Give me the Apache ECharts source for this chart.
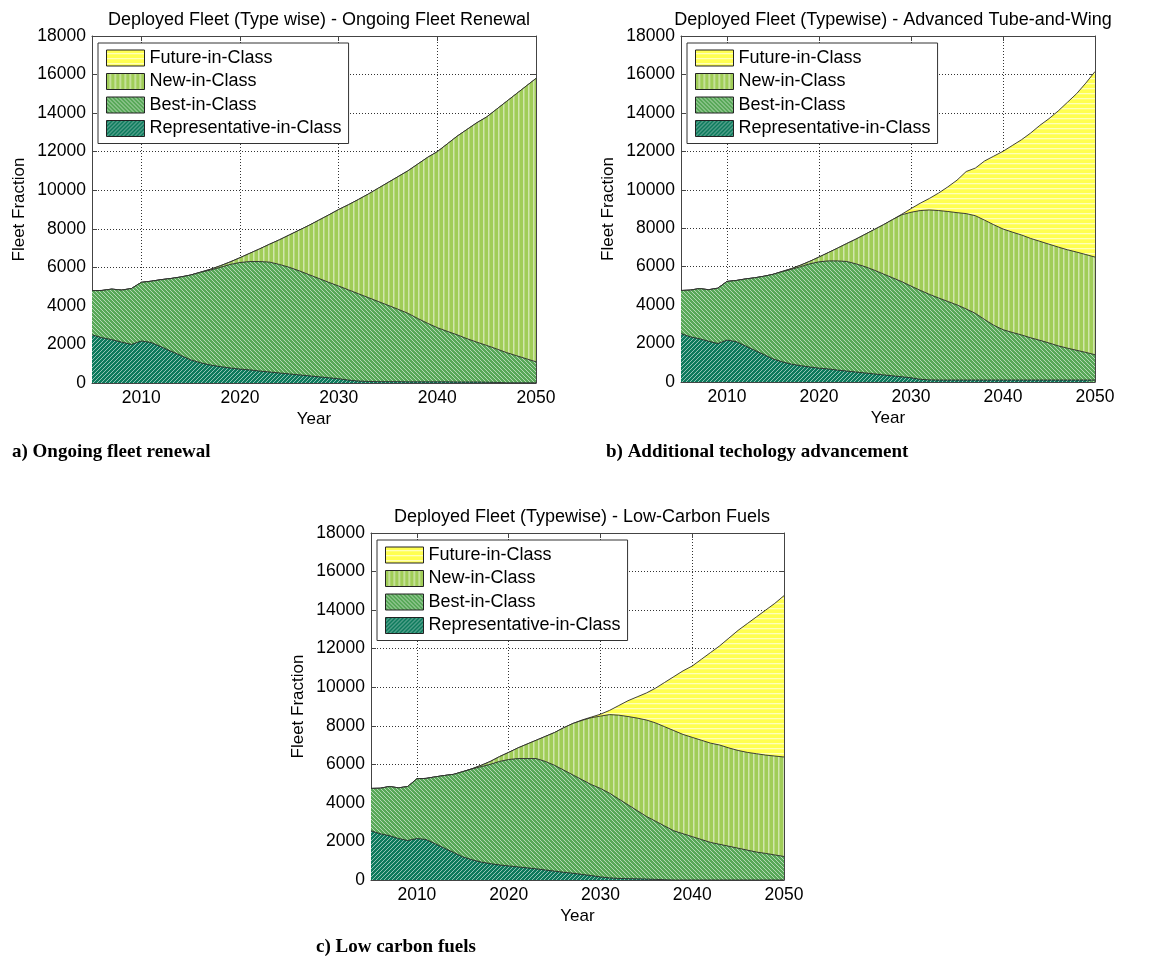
<!DOCTYPE html>
<html><head><meta charset="utf-8">
<script src="https://cdn.jsdelivr.net/npm/echarts@6/dist/echarts.min.js"></script>
<style>html,body{margin:0;padding:0;background:#fff}#c{width:1158px;height:959px}</style>
</head><body><div id="c"></div>
<script>
// ---------------- DATA ----------------
const years = [2005,2006,2007,2008,2009,2010,2011,2012,2013,2014,2015,2016,2017,2018,2019,2020,2021,2022,2023,2024,2025,2026,2027,2028,2029,2030,2031,2032,2033,2034,2035,2036,2037,2038,2039,2040,2041,2042,2043,2044,2045,2046,2047,2048,2049,2050];
const seriesNames = ['Future-in-Class','New-in-Class','Best-in-Class','Representative-in-Class'];
const xTickLabels = [2010,2020,2030,2040,2050];
const yTickLabels = [0,2000,4000,6000,8000,10000,12000,14000,16000,18000];
const chartTitles = ['Deployed Fleet (Type wise) - Ongoing Fleet Renewal','Deployed Fleet (Typewise) - Advanced Tube-and-Wing','Deployed Fleet (Typewise) - Low-Carbon Fuels'];
const captions = ['a) Ongoing fleet renewal','b) Additional techology advancement','c) Low carbon fuels'];

// Upper boundary of each layer (cumulative values)
// a) Ongoing fleet renewal
const aTotal = [4790,4800,4870,4820,4900,5220,5280,5360,5420,5500,5600,5750,5900,6080,6280,6500,6730,6960,7200,7430,7680,7930,8180,8450,8720,9000,9250,9520,9800,10100,10400,10700,11000,11350,11700,12000,12400,12800,13150,13500,13800,14200,14600,15000,15400,15800];
const aNew   = [4790,4800,4870,4820,4900,5220,5280,5360,5420,5500,5600,5750,5900,6080,6280,6500,6730,6960,7200,7430,7680,7930,8180,8450,8720,9000,9250,9520,9800,10100,10400,10700,11000,11350,11700,12000,12400,12800,13150,13500,13800,14200,14600,15000,15400,15800];
const aBest  = [4790,4800,4870,4820,4900,5220,5280,5360,5420,5500,5600,5740,5860,6000,6150,6250,6300,6300,6270,6150,6000,5820,5620,5420,5220,5030,4830,4630,4430,4230,4030,3830,3620,3350,3100,2870,2680,2500,2300,2120,1950,1770,1580,1420,1260,1100];
const aRep   = [2500,2350,2250,2120,2000,2180,2100,1880,1650,1430,1200,1050,930,850,780,720,680,620,570,520,470,420,370,320,270,220,150,100,80,70,70,70,60,60,60,60,60,50,50,50,40,30,10,10,10,10];

// b) Additional technology advancement
const bTotal = [4760,4780,4860,4800,4880,5230,5280,5360,5420,5500,5600,5750,5900,6080,6280,6500,6730,6960,7200,7430,7680,7930,8180,8450,8730,9020,9300,9550,9830,10150,10500,10950,11130,11500,11750,12000,12300,12600,12950,13350,13700,14100,14550,15000,15550,16150];
const bNew   = [4760,4780,4860,4800,4880,5230,5280,5360,5420,5500,5600,5750,5900,6080,6280,6500,6730,6960,7200,7430,7680,7930,8180,8450,8700,8830,8920,8950,8920,8870,8810,8760,8650,8420,8180,7960,7800,7650,7470,7320,7170,7020,6880,6760,6630,6500];
const bBest  = [4760,4780,4860,4800,4880,5230,5280,5360,5420,5500,5600,5740,5860,6000,6150,6250,6300,6300,6270,6150,6000,5820,5620,5420,5220,4990,4770,4560,4370,4190,4010,3800,3570,3250,2950,2720,2580,2450,2300,2170,2030,1880,1760,1650,1540,1420];
const bRep   = [2520,2350,2250,2120,2000,2180,2100,1880,1650,1430,1200,1050,930,850,780,720,680,620,570,520,470,420,370,320,270,220,140,110,100,100,100,100,100,100,100,100,100,100,100,100,100,100,100,100,100,100];

// c) Low carbon fuels
const cTotal = [4750,4760,4850,4780,4850,5250,5270,5350,5420,5480,5620,5770,5950,6150,6400,6620,6850,7050,7250,7450,7650,7900,8120,8300,8450,8600,8800,9050,9300,9500,9700,9950,10250,10550,10850,11100,11450,11800,12150,12550,12950,13300,13650,14000,14350,14750];
const cNew   = [4750,4760,4850,4780,4850,5250,5270,5350,5420,5480,5620,5770,5950,6150,6400,6620,6850,7050,7250,7450,7650,7900,8120,8280,8420,8500,8580,8550,8480,8400,8300,8150,7950,7750,7550,7400,7250,7100,7000,6850,6720,6620,6550,6480,6430,6380];
const cBest  = [4750,4760,4850,4780,4850,5250,5270,5350,5420,5480,5620,5760,5880,6000,6150,6250,6300,6300,6300,6150,5950,5700,5450,5200,4950,4750,4500,4200,3900,3600,3300,3050,2800,2550,2400,2250,2100,1950,1850,1750,1650,1550,1450,1380,1300,1220];
const cRep   = [2550,2400,2300,2150,2050,2150,2100,1880,1650,1430,1200,1050,930,850,780,730,680,630,580,520,460,400,350,290,230,160,110,80,70,60,50,30,15,0,0,0,0,0,0,0,0,0,0,0,0,0];

const panels = [
  {total:aTotal, nw:aNew, best:aBest, rep:aRep},
  {total:bTotal, nw:bNew, best:bBest, rep:bRep},
  {total:cTotal, nw:cNew, best:cBest, rep:cRep}
];

// ---------------- STYLE ----------------
const FONT = '"Liberation Sans", Arial, Helvetica, sans-serif';
function hatch(bg, kind, stripe) {
  const s = (kind === 'v' || kind === 'h') ? 5 : 4;
  const c = document.createElement('canvas'); c.width = s; c.height = s;
  const g = c.getContext('2d');
  g.fillStyle = bg; g.fillRect(0, 0, s, s);
  g.fillStyle = stripe; g.strokeStyle = stripe;
  if (kind === 'v') { g.fillRect(3, 0, 1.5, s); }
  else if (kind === 'h') { g.fillRect(0, 3, s, 1.3); }
  else {
    g.lineWidth = 1.0; g.beginPath();
    for (let k = -1; k <= 1; k++) {
      if (kind === '/') { g.moveTo(k * s, s); g.lineTo(k * s + s, 0); }
      else { g.moveTo(k * s, 0); g.lineTo(k * s + s, s); }
    }
    g.stroke();
  }
  return { image: c, repeat: 'repeat' };
}
const fills = {
  'Future-in-Class': hatch('#ffff50', 'h', 'rgba(255,255,255,0.6)'),
  'New-in-Class': hatch('#a0cd58', 'v', 'rgba(255,255,255,0.5)'),
  'Best-in-Class': hatch('#58a858', '\\', 'rgba(255,255,255,0.55)'),
  'Representative-in-Class': hatch('#0d7a5c', '/', 'rgba(255,255,255,0.55)')
};

const grids = [
  {left: 92, top: 36, width: 444, height: 347},
  {left: 681, top: 36, width: 414, height: 346},
  {left: 371, top: 533, width: 413, height: 347}
];
const titlePos = [{x: 314, y: 6}, {x: 888, y: 6}, {x: 577, y: 503}];
const legendPos = [{x: 98, y: 43}, {x: 687, y: 43}, {x: 377, y: 540}];
const captionPos = [{x: 12, y: 443}, {x: 606, y: 443}, {x: 316, y: 938}];

const axisColor = '#444';
const fmt = v => String(v);
const xAxes = [], yAxes = [], series = [], legends = [], titles = [], graphics = [];
grids.forEach((g, i) => {
  xAxes.push({
    type: 'value', gridIndex: i, min: 2005, max: 2050, position: 'bottom',
    axisLine: {show: true, onZero: false, lineStyle: {color: axisColor, width: 1}},
    axisTick: {show: true, inside: true, length: 5, customValues: xTickLabels, lineStyle: {color: axisColor}},
    axisLabel: {customValues: xTickLabels, formatter: fmt, fontSize: 17.5, color: '#000', fontFamily: FONT, margin: 6},
    splitLine: {show: true, lineStyle: {type: [1, 2], color: '#333', width: 1}},
    name: 'Year', nameLocation: 'middle', nameGap: 28,
    nameTextStyle: {fontSize: 17, color: '#000', fontFamily: FONT}
  });
  yAxes.push({
    type: 'value', gridIndex: i, min: 0, max: 18000, interval: 2000, position: 'left',
    axisLine: {show: true, onZero: false, lineStyle: {color: axisColor, width: 1}},
    axisTick: {show: true, inside: true, length: 5, lineStyle: {color: axisColor}},
    axisLabel: {formatter: fmt, fontSize: 17.5, color: '#000', fontFamily: FONT, margin: 6},
    splitLine: {show: true, lineStyle: {type: [1, 2], color: '#333', width: 1}},
    name: 'Fleet Fraction', nameLocation: 'middle', nameGap: 64,
    nameTextStyle: {fontSize: 17, color: '#000', fontFamily: FONT}
  });
});
grids.forEach((g, i) => {
  xAxes.push({
    type: 'value', gridIndex: i, min: 2005, max: 2050, position: 'top',
    axisLine: {show: true, onZero: false, lineStyle: {color: axisColor, width: 1}},
    axisTick: {show: true, inside: true, length: 5, customValues: xTickLabels, lineStyle: {color: axisColor}},
    axisLabel: {show: false}, splitLine: {show: false}
  });
  yAxes.push({
    type: 'value', gridIndex: i, min: 0, max: 18000, interval: 2000, position: 'right',
    axisLine: {show: true, onZero: false, lineStyle: {color: axisColor, width: 1}},
    axisTick: {show: true, inside: true, length: 5, lineStyle: {color: axisColor}},
    axisLabel: {show: false}, splitLine: {show: false}
  });
});

panels.forEach((p, i) => {
  const layers = [p.total, p.nw, p.best, p.rep];
  layers.forEach((arr, k) => {
    const name = seriesNames[k];
    series.push({
      type: 'line', name: name, xAxisIndex: i, yAxisIndex: i,
      data: years.map((yr, j) => [yr, arr[j]]),
      showSymbol: false, symbol: 'none', smooth: false, silent: true,
      lineStyle: {color: '#2b2b2b', width: 0.9},
      itemStyle: {color: '#2b2b2b'},
      areaStyle: {color: fills[name], opacity: 1, origin: 'start'},
      z: 2 + k
    });
  });
  legends.push({
    left: legendPos[i].x, top: legendPos[i].y, orient: 'vertical',
    itemWidth: 38, itemHeight: 16, itemGap: 5.5, icon: 'rect',
    padding: [6, 7, 6, 8], borderColor: '#333', borderWidth: 1, backgroundColor: '#fff',
    selectedMode: false, z: 10,
    textStyle: {fontSize: 18, color: '#000', fontFamily: FONT},
    data: seriesNames.map(n => ({name: n, icon: 'rect', itemStyle: {color: fills[n], borderColor: '#222', borderWidth: 1}}))
  });
  titles.push({
    text: chartTitles[i], left: titlePos[i].x, top: titlePos[i].y, textAlign: 'center',
    textStyle: {fontSize: 18, fontWeight: 'normal', color: '#000', fontFamily: FONT}
  });
  graphics.push({
    type: 'text', left: captionPos[i].x, top: captionPos[i].y,
    style: {text: captions[i], font: 'bold 19px "Liberation Serif", "Times New Roman", serif', fill: '#000'}
  });
});

const chart = echarts.init(document.getElementById('c'), null, {renderer: 'canvas'});
chart.setOption({
  animation: false,
  backgroundColor: '#fff',
  title: titles,
  grid: grids,
  xAxis: xAxes,
  yAxis: yAxes,
  legend: legends,
  series: series,
  graphic: graphics
});
</script>
</body></html>
